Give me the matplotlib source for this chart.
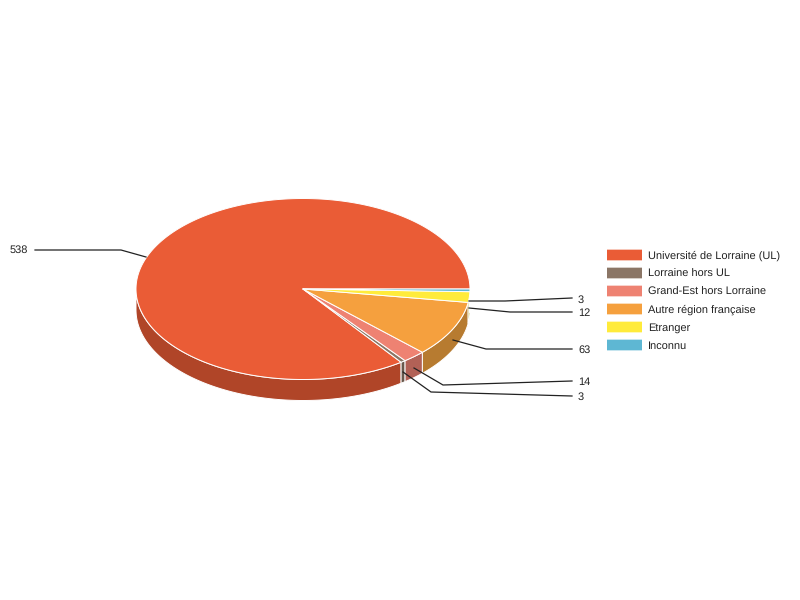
import numpy as np
import matplotlib
matplotlib.use("Agg")
import matplotlib.pyplot as plt
from matplotlib.patches import Polygon, Rectangle

plt.rcParams['font.family'] = ['Liberation Sans', 'DejaVu Sans']
plt.rcParams['text.hinting'] = 'no_hinting'
plt.rcParams['text.hinting_factor'] = 1

categories = ['Université de Lorraine (UL)', 'Lorraine hors UL', 'Grand-Est hors Lorraine',
              'Autre région française', 'Etranger', 'Inconnu']
values = [538, 3, 14, 63, 12, 3]
colors = ['#EA5C36', '#8B7666', '#EE8272', '#F5A03E', '#FFEB3B', '#5EB7D3']
side_colors = ['#B04528', '#68584C', '#B26156', '#B77B30', '#BFB02C', '#478A9E']

# pie geometry in pixels
cx, cy = 303, 289
rx, ry = 167, 90.5
depth = 21

# leader lines: start, elbow and end of each one, then where its label goes
starts = [(146, 257), (469, 301), (469, 308), (453, 340), (414, 368), (403, 372)]
elbows = [(121, 250), (505, 301), (510, 312), (486, 349), (443, 385), (431, 392)]
line_ends = [(35, 250), (572, 298), (572, 312), (572, 349), (572, 381), (572, 396)]
label_pos = [(10, 249), (578, 299), (578, 312), (578, 349), (578, 381), (578, 396)]
label_values = [538, 3, 12, 63, 14, 3]


def arc(a0, a1, dy=0):
    n = max(int(abs(a1 - a0) * 80), 2)
    t = np.linspace(a0, a1, n)
    return np.column_stack([cx + rx * np.cos(t), cy + ry * np.sin(t) + dy])


fig = plt.figure(figsize=(8, 6), dpi=100)
ax = fig.add_axes([0, 0, 1, 1])
ax.set_xlim(0, 800)
ax.set_ylim(600, 0)
ax.axis('off')

# slices go anticlockwise on screen from 3 o'clock
total = sum(values)
angles = [0.0]
for v in values:
    angles.append(angles[-1] - v / total * 2 * np.pi)

# rim first, only the part facing the viewer (0 to pi with y pointing down)
for i in range(len(values)):
    lo = min(angles[i], angles[i + 1]) + 2 * np.pi
    hi = max(angles[i], angles[i + 1]) + 2 * np.pi
    for shift in (-2 * np.pi, 0):
        s0, s1 = max(lo + shift, 0), min(hi + shift, np.pi)
        if s1 > s0:
            outline = np.vstack([arc(s0, s1), arc(s0, s1, depth)[::-1]])
            ax.add_patch(Polygon(outline, closed=True, facecolor=side_colors[i],
                                 edgecolor='white', linewidth=0.7, joinstyle='round', zorder=2))

# top faces
for i in range(len(values)):
    outline = np.vstack([[(cx, cy)], arc(angles[i], angles[i + 1])])
    ax.add_patch(Polygon(outline, closed=True, facecolor=colors[i], edgecolor='white',
                         linewidth=0.7, joinstyle='round', zorder=3))

# leaders and labels, text sits on its baseline so the rows stay even
for s, e, f, p, v in zip(starts, elbows, line_ends, label_pos, label_values):
    ax.plot([s[0], e[0], f[0]], [s[1], e[1], f[1]], color='#222222', lw=0.9, zorder=4,
            solid_joinstyle='miter')
    ax.text(p[0], p[1] + 4, str(v), fontsize=7.92, color='#222222', va='baseline', ha='left', zorder=5)

# legend
legend_y = [255, 273, 291, 309, 327, 345]
for name, col, y in zip(categories, colors, legend_y):
    ax.add_patch(Rectangle((607, y - 6), 35, 12, facecolor=col, edgecolor='none', alpha=0.35, zorder=4))
    ax.add_patch(Rectangle((607, y - 5), 35, 10, facecolor=col, edgecolor='none', zorder=5))
    ax.text(648, y + 4, name, fontsize=7.92, color='#222222', va='baseline', ha='left', zorder=5)

fig.savefig('out.png', dpi=100, facecolor='white')
